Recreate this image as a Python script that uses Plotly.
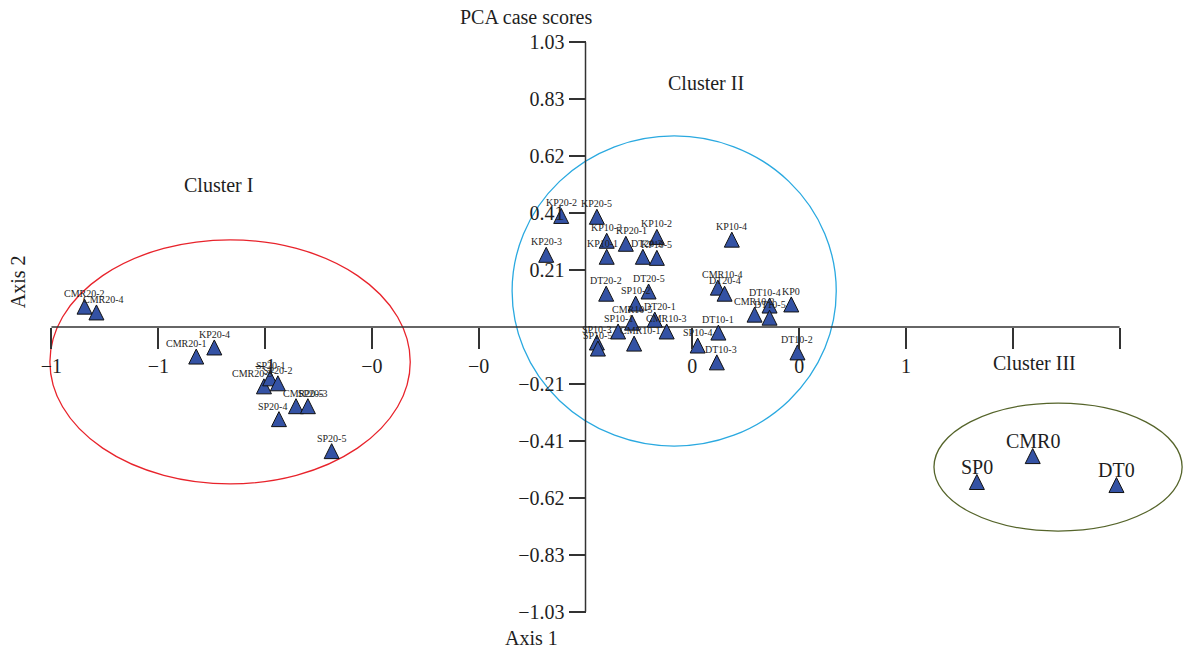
import plotly.graph_objects as go

# PCA case scores: sample code, score on axis 1, score on axis 2
cluster1_names = ["CMR20-2", "CMR20-4", "CMR20-1", "KP20-4", "CMR20-3", "SP20-1",
                  "SP20-2", "CMR20-5", "SP20-3", "SP20-4", "SP20-5"]
cluster1_axis1 = [-0.969, -0.946, -0.753, -0.718, -0.622, -0.610,
                  -0.595, -0.560, -0.537, -0.593, -0.491]
cluster1_axis2 = [0.101, 0.080, -0.080, -0.047, -0.188, -0.159,
                  -0.177, -0.260, -0.260, -0.307, -0.423]

cluster2_names = ["KP20-2", "KP20-5", "KP10-3", "KP20-1", "KP10-2", "KP10-1",
                  "DT20-3", "KP10-5", "KP20-3", "DT20-2", "DT20-5", "SP10-2",
                  "DT20-1", "CMR10-5", "SP10-1", "CMR10-1", "CMR10-3", "SP10-3",
                  "SP10-5", "KP10-4", "CMR10-4", "DT20-4", "DT10-4", "KP0",
                  "CMR10-2", "DT10-5", "DT10-1", "SP10-4", "DT10-3", "DT10-2"]
cluster2_axis1 = [-0.047, 0.022, 0.041, 0.078, 0.138, 0.041,
                  0.111, 0.138, -0.076, 0.040, 0.122, 0.097,
                  0.134, 0.090, 0.063, 0.094, 0.157, 0.022,
                  0.024, 0.283, 0.256, 0.269, 0.356, 0.398,
                  0.327, 0.356, 0.257, 0.217, 0.254, 0.410]
cluster2_axis2 = [0.430, 0.427, 0.340, 0.329, 0.354, 0.282,
                  0.282, 0.278, 0.289, 0.148, 0.156, 0.112,
                  0.054, 0.043, 0.011, -0.033, 0.011, -0.029,
                  -0.051, 0.344, 0.170, 0.148, 0.105, 0.109,
                  0.072, 0.061, 0.007, -0.040, -0.101, -0.065]

cluster3_names = ["SP0", "CMR0", "DT0"]
cluster3_axis1 = [0.757, 0.865, 1.027]
cluster3_axis2 = [-0.535, -0.441, -0.546]

cluster_titles = ["Cluster I", "Cluster II", "Cluster III"]

# Axis ticks: five steps each side of the origin
axis_limit = 1.033
tick_steps = [-5, -4, -3, -2, -1, 1, 2, 3, 4, 5]
x_tick_labels = ["\u22121", "\u22121", "\u22121", "\u22120", "\u22120", "0", "0", "1", "1", ""]
y_tick_labels = ["\u22121.03", "\u22120.83", "\u22120.62", "\u22120.41", "\u22120.21",
                 "0.21", "0.41", "0.62", "0.83", "1.03"]

FONT = "Liberation Serif"
INK = "#333333"
TEXT = "#1e1e1e"
FILL = "#3452a4"

tick_vals = [k * axis_limit / 5 for k in tick_steps]

# plot geometry
x_range = [-1.0629, 1.1615]
y_range = [-1.0627, 1.0627]
y_axis_pos = (0 - x_range[0]) / (x_range[1] - x_range[0])

fig = go.Figure()

all_names = cluster1_names + cluster2_names + cluster3_names
all_x = cluster1_axis1 + cluster2_axis1 + cluster3_axis1
all_y = cluster1_axis2 + cluster2_axis2 + cluster3_axis2

fig.add_trace(go.Scatter(
    x=all_x, y=all_y, mode="markers", text=all_names, hoverinfo="text",
    cliponaxis=False, showlegend=False,
    marker=dict(symbol="arrow-up", size=15, color=FILL,
                line=dict(color="#111111", width=1)),
))

# small nudges so overlapping labels sit where they read best
label_nudge = {"CMR20-4": 7, "CMR20-1": -10, "CMR20-3": -11, "CMR20-5": 7,
               "SP20-3": 5, "SP20-4": -6, "KP20-1": 6, "KP10-1": -4,
               "DT20-3": 4, "DT20-1": 5, "CMR10-1": 6, "CMR10-4": 5,
               "DT10-4": -5, "DT10-3": 4}

annotations = []
for names, xs, ys, size, yshift in [
        (cluster1_names, cluster1_axis1, cluster1_axis2, 10, -2),
        (cluster2_names, cluster2_axis1, cluster2_axis2, 10, -2),
        (cluster3_names, cluster3_axis1, cluster3_axis2, 20, -5)]:
    for n, x, y in zip(names, xs, ys):
        annotations.append(dict(
            x=x, y=y, xref="x", yref="y", text=n, showarrow=False,
            xanchor="center", yanchor="bottom", yshift=yshift,
            xshift=label_nudge.get(n, 0),
            font=dict(family=FONT, size=size, color=TEXT)))

# cluster captions
for title, cx, cy, bg in zip(cluster_titles, [-0.709, 0.233, 0.868], [0.514, 0.885, -0.130],
                             ["rgba(0,0,0,0)", "rgba(0,0,0,0)", "white"]):
    annotations.append(dict(x=cx, y=cy, xref="x", yref="y", text=title, showarrow=False,
                            xanchor="center", yanchor="middle", bgcolor=bg,
                            font=dict(family=FONT, size=20, color=TEXT)))

# chart title and axis names
annotations.append(dict(x=0.426, y=1.029, xref="paper", yref="paper", text="PCA case scores",
                        xanchor="center", yanchor="middle", showarrow=False,
                        font=dict(family=FONT, size=20, color=TEXT)))
annotations.append(dict(x=0.431, y=-0.031, xref="paper", yref="paper", text="Axis 1",
                        xanchor="center", yanchor="middle", showarrow=False,
                        font=dict(family=FONT, size=20, color=TEXT)))
annotations.append(dict(x=-0.0157, y=0.578, xref="paper", yref="paper", text="Axis 2",
                        textangle=-90, xanchor="center", yanchor="middle", showarrow=False,
                        font=dict(family=FONT, size=20, color=TEXT)))

shapes = [
    # cluster outlines
    dict(type="circle", xref="x", yref="y", x0=-1.036, x1=-0.339, y0=-0.569, y1=0.316,
         line=dict(color="#e8232b", width=1.3), layer="below"),
    dict(type="circle", xref="x", yref="y", x0=-0.142, x1=0.485, y0=-0.432, y1=0.693,
         line=dict(color="#2aa9e0", width=1.3), layer="below"),
    dict(type="circle", xref="x", yref="y", x0=0.674, x1=1.154, y0=-0.740, y1=-0.276,
         line=dict(color="#55642a", width=1.3), layer="below"),
    # axis lines through the origin
    dict(type="line", xref="x", yref="y", x0=-axis_limit, x1=axis_limit, y0=0, y1=0,
         line=dict(color=INK, width=1.5), layer="below"),
    dict(type="line", xref="x", yref="y", x0=0, x1=0, y0=-axis_limit, y1=axis_limit,
         line=dict(color=INK, width=1.5), layer="below"),
]

fig.update_layout(
    width=1186, height=651,
    margin=dict(l=36, r=0, t=34, b=31),
    paper_bgcolor="white", plot_bgcolor="white",
    font=dict(family=FONT, color=TEXT),
    xaxis=dict(range=x_range, anchor="free", position=0.5, showgrid=False,
               zeroline=False, showline=False, ticks="outside", ticklen=21,
               tickwidth=1.5, tickcolor=INK, tickvals=tick_vals,
               ticktext=x_tick_labels, tickfont=dict(family=FONT, size=20, color=TEXT)),
    yaxis=dict(range=y_range, anchor="free", position=y_axis_pos, showgrid=False,
               zeroline=False, showline=False, ticks="outside", ticklen=17,
               tickwidth=1.5, tickcolor=INK, tickvals=tick_vals,
               ticktext=y_tick_labels, tickfont=dict(family=FONT, size=20, color=TEXT)),
    shapes=shapes,
    annotations=annotations,
)

fig.write_html("out.html")
